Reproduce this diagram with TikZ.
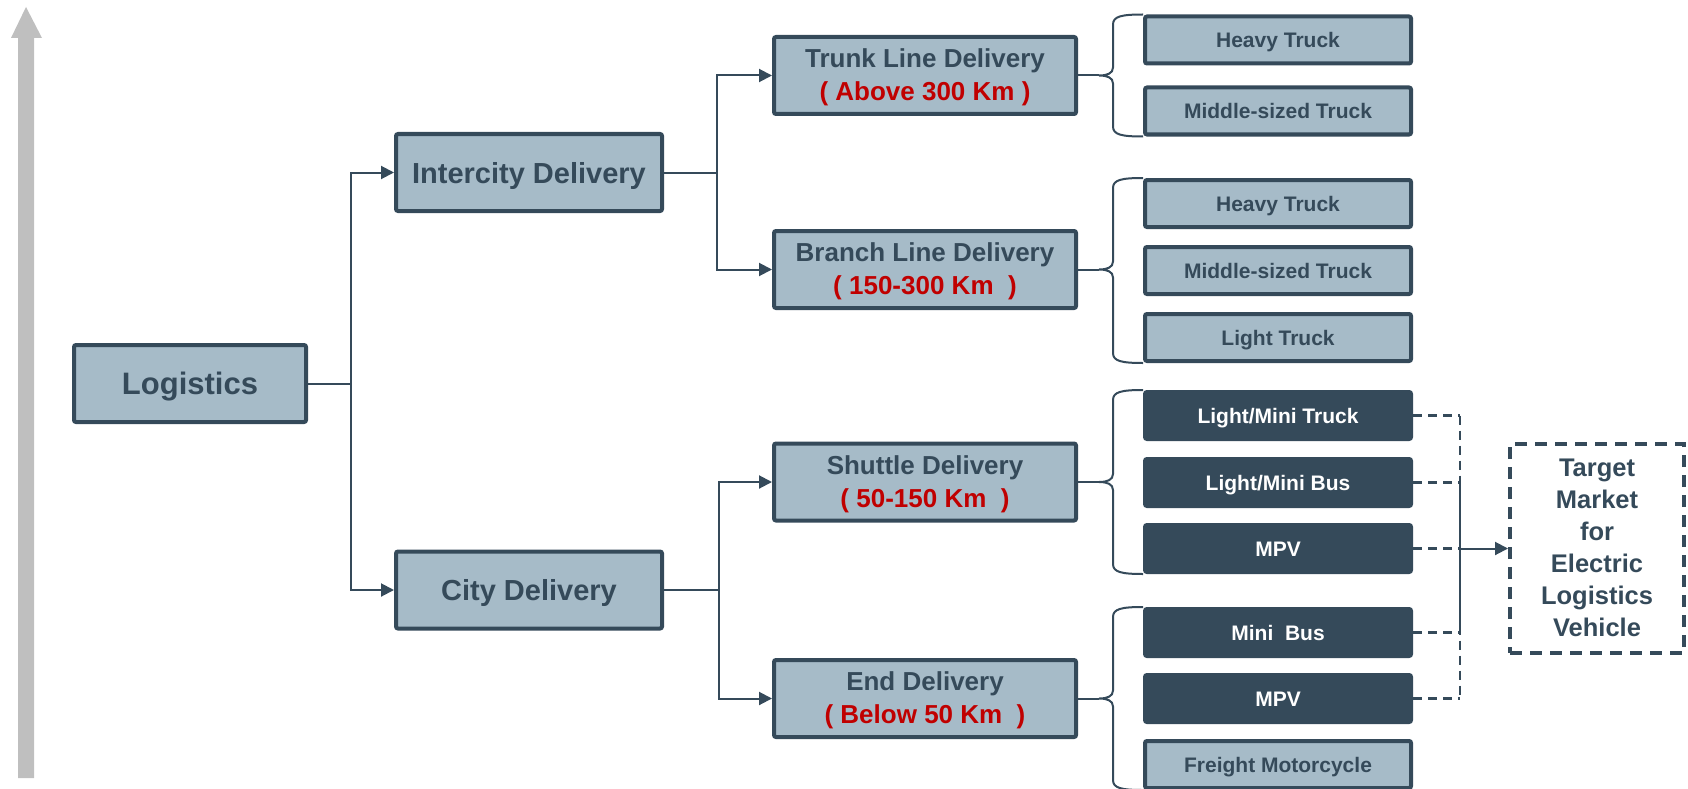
\documentclass[tikz,border=0pt]{standalone}
\usepackage{fontspec}
\setmainfont{Liberation Sans}
\usepackage{tikz}
\usetikzlibrary{positioning,calc,arrows.meta}
\definecolor{CDark}{HTML}{354A5A}
\definecolor{CPale}{HTML}{A6BBC8}
\definecolor{CRed}{HTML}{C00000}
\definecolor{CGrey}{HTML}{BFBFBF}

\begin{document}
\begin{tikzpicture}[x=1pt, y=-1pt, every node/.style={text=CDark, font=\bfseries},
  lvl/.style ={draw=CDark, line width=4pt, fill=CPale, rounded corners=2pt, inner sep=0pt,
               minimum width=302pt, minimum height=77pt, align=center,
               text height=50.8pt, text depth=0pt,
               font=\bfseries\fontsize{26}{33}\selectfont},
  mid/.style ={lvl, minimum width=266pt, text height=21.6pt, font=\bfseries\fontsize{29}{33}\selectfont},
  leaf/.style={lvl, minimum width=266pt, minimum height=47pt, text height=16pt,
               font=\bfseries\fontsize{21}{24}\selectfont},
  dark/.style={leaf, fill=CDark, text=white},
  target/.style={draw=CDark, line width=4pt, dash pattern=on 12pt off 8pt, inner sep=0pt,
               minimum width=174pt, minimum height=209pt, align=center,
               text height=176.4pt, text depth=0pt,
               font=\bfseries\fontsize{25.5}{32}\selectfont},
  link/.style={draw=CDark, line width=2pt},
  arrow/.style={link, -{Triangle[length=13pt,width=13pt]}},
  dashline/.style={link, line width=2.5pt, dash pattern=on 9pt off 6pt}]
\useasboundingbox (0,0) rectangle (1688,789);
\fill[CGrey] (18,778) -- (18,38) -- (11,38) -- (26,7) -- (42,38) -- (34,38) -- (34,778) -- cycle;
\node[lvl, minimum width=232pt, text height=22pt, font=\bfseries\fontsize{31}{36}\selectfont] (logi) at (190,383.5) {Logistics};
\node[mid] (inter) at (529,172.5) {Intercity Delivery};
\node[mid] (city)  at (529,590) {City Delivery};
\node[lvl] (trunk)   at (925,75.5)  {Trunk Line Delivery\\\textcolor{CRed}{( Above 300 Km )}};
\node[lvl] (branch)  at (925,269.5) {Branch Line Delivery\\\textcolor{CRed}{( 150-300 Km\ \ )}};
\node[lvl] (shuttle) at (925,482)   {Shuttle Delivery\\\textcolor{CRed}{( 50-150 Km\ \ )}};
\node[lvl] (endd)    at (925,698.5) {End Delivery\\\textcolor{CRed}{( Below 50 Km\ \ )}};
\node[leaf] (heavyA) at (1278,40) {Heavy Truck};
\node[leaf, below=20pt of heavyA] (midA) {Middle-sized Truck};
\node[leaf] (heavyB) at (1278,203.5) {Heavy Truck};
\node[leaf, below=16pt of heavyB] (midB)   {Middle-sized Truck};
\node[leaf, below=16pt of midB]   (lightB) {Light Truck};
\node[dark] (lmt) at (1278,415.5) {Light/Mini Truck};
\node[dark, below=16pt of lmt] (lmb)  {Light/Mini Bus};
\node[dark, below=15pt of lmb] (mpvA) {MPV};
\node[dark] (minibus) at (1278,632.5) {Mini\ \ Bus};
\node[dark, below=15pt of minibus] (mpvB)    {MPV};
\node[leaf, below=15pt of mpvB]    (freight) {Freight Motorcycle};
\node[target] (goal) at (1597,548.5) {Target\\Market\\for\\Electric\\Logistics\\Vehicle};
\foreach \dst in {inter,city} {\draw[arrow] (logi.east) -- ++(43,0) |- (\dst.west);}
\foreach \dst in {trunk,branch} {\draw[arrow] (inter.east) -- ++(53,0) |- (\dst.west);}
\foreach \dst in {shuttle,endd} {\draw[arrow] (city.east) -- ++(55,0) |- (\dst.west);}
\foreach \p/\t/\b in {trunk/heavyA/midA, branch/heavyB/lightB, shuttle/lmt/mpvA, endd/minibus/freight} {
  \coordinate (tip) at ($(\t.west |- \p.east)+(-44,0)$);
  \draw[link] (\p.east) -- (tip);
  \draw[link] (\t.north west) .. controls +(-22,0) and +(0,-8) .. ($(\t.north west)+(-30,10)$)
    -- ($(tip)+(14,-8)$) .. controls +(0,6) and +(8,0) .. (tip)
    .. controls +(8,0) and +(0,-6) .. ($(tip)+(14,8)$)
    -- ($(\b.south west)+(-30,-10)$) .. controls +(0,8) and +(-22,0) .. (\b.south west);
}
\coordinate (join) at ($(mpvA.east)+(47,0)$);
\foreach \v in {lmt,lmb,mpvA,minibus,mpvB} {\draw[dashline] (\v.east) -- (\v.east -| join);}
\draw[dashline] (lmt.east -| join) -- (mpvB.east -| join);
\draw[link] (lmb.east -| join) -- (minibus.east -| join);
\draw[arrow] (join) -- (goal.west);
\end{tikzpicture}
\end{document}
